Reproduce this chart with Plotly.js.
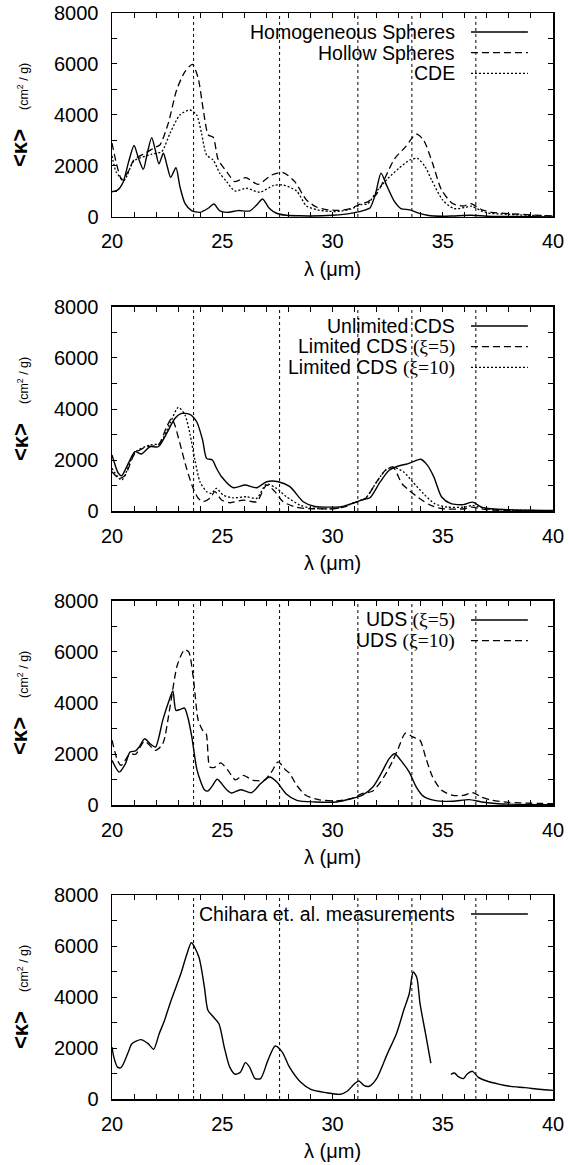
<!DOCTYPE html>
<html>
<head>
<meta charset="utf-8">
<script src="https://cdn.plot.ly/plotly-3.0.1.min.js"></script>
<style>html,body{margin:0;padding:0;background:#fff;}#chart{width:569px;height:1165px;}</style>
</head>
<body>
<div id="chart"></div>
<script>
// ---------- DATA ----------
const xRange = [20, 40];
const yRange = [0, 8000];
const featureLines = [23.7, 27.6, 31.15, 33.6, 36.5];
const xTickLabels = [20, 25, 30, 35, 40];
const yTickLabels = [0, 2000, 4000, 6000, 8000];

// Panel 1
const homX = [20, 20.25, 20.5, 20.75, 21.0, 21.2, 21.42, 21.6, 21.8, 21.97, 22.13, 22.33, 22.5, 22.66, 22.9, 23.08, 23.31, 23.61, 23.99, 24.36, 24.62, 24.89, 25.2, 25.72, 26.25, 26.56, 26.83, 27.13, 27.46, 27.91, 28.5, 29, 30, 30.5, 31, 31.5, 31.7, 31.95, 32.2, 32.45, 32.8, 33.1, 33.5, 33.9, 34.3, 35, 35.5, 36.3, 37, 38, 40];
const homY = [990, 1050, 1350, 2150, 2800, 2300, 1870, 2500, 3110, 2600, 2080, 2500, 2000, 1555, 1935, 1190, 535, 250, 180, 340, 510, 235, 180, 250, 235, 470, 705, 340, 145, 65, 45, 40, 65, 100, 170, 280, 350, 900, 1720, 1250, 620, 330, 280, 150, 65, 26, 40, 65, 30, 15, 0];
const hollowX = [20, 20.2, 20.45, 20.75, 21.0, 21.5, 22.0, 22.17, 22.55, 22.93, 23.31, 23.65, 23.91, 24.14, 24.37, 24.59, 24.82, 25.2, 25.57, 26.06, 26.63, 27.24, 27.76, 28.29, 28.82, 29.3, 29.8, 30.3, 30.8, 31.3, 31.6, 32.0, 32.33, 32.82, 33.31, 33.8, 34.13, 34.54, 34.95, 35.45, 35.94, 36.27, 36.76, 37.2, 38.0, 39.0, 40.0];
const hollowY = [2900, 2100, 1450, 1800, 2250, 2500, 2750, 2820, 3670, 4980, 5700, 5985, 5435, 4195, 3215, 3125, 2235, 1780, 1385, 1540, 1280, 1645, 1740, 1385, 665, 380, 280, 260, 330, 520, 590, 900, 1440, 2290, 2750, 3250, 3015, 2100, 1050, 525, 430, 525, 290, 180, 130, 80, 40];
const cdeX = [20, 20.2, 20.55, 21.0, 21.8, 22.25, 22.63, 23.08, 23.53, 23.84, 24.06, 24.29, 24.59, 24.89, 25.2, 25.57, 26.1, 26.71, 27.31, 27.76, 28.37, 28.82, 29.3, 29.8, 30.3, 30.8, 31.3, 31.6, 32.0, 32.5, 33.0, 33.5, 33.85, 34.2, 34.5, 35.0, 35.5, 36.0, 36.3, 36.7, 37.0, 38.0, 40.0];
const cdeY = [2400, 1750, 1440, 2200, 2460, 2560, 3280, 4000, 4195, 4000, 3280, 2430, 2235, 1710, 1385, 1020, 1125, 970, 1230, 1250, 1020, 430, 280, 220, 220, 300, 480, 520, 1000, 1500, 1900, 2230, 2300, 1970, 1440, 660, 330, 370, 420, 260, 160, 100, 26];

// Panel 2
const unlX = [20, 20.29, 20.44, 20.74, 21.04, 21.34, 21.72, 22.1, 22.48, 22.85, 23.16, 23.53, 23.84, 24.11, 24.29, 24.55, 24.74, 24.97, 25.5, 26.03, 26.56, 27.01, 27.54, 28.07, 28.67, 29.2, 29.8, 30.4, 31.0, 31.4, 31.7, 32.16, 32.57, 32.99, 33.4, 33.7, 34.0, 34.3, 34.6, 34.95, 35.37, 35.94, 36.35, 36.76, 37.2, 38.0, 40.0];
const unlY = [2200, 1480, 1385, 1870, 2325, 2235, 2520, 2520, 3045, 3630, 3830, 3790, 3500, 2780, 2065, 2000, 1675, 1345, 915, 1020, 915, 1150, 1150, 955, 365, 180, 155, 170, 330, 450, 520, 1140, 1600, 1765, 1850, 1950, 2030, 1800, 1330, 550, 290, 250, 350, 155, 90, 50, 20];
const lim5X = [20, 20.33, 20.6, 21.04, 21.57, 22.1, 22.48, 22.7, 22.85, 23.08, 23.38, 23.68, 23.91, 24.14, 24.44, 24.67, 24.97, 25.35, 25.95, 26.56, 27.01, 27.39, 27.76, 28.37, 29.0, 30.0, 30.5, 31.0, 31.5, 32.0, 32.4, 32.74, 33.15, 33.48, 33.97, 34.46, 35.0, 36.0, 36.3, 37.0, 40.0];
const lim5Y = [1540, 1280, 1410, 2260, 2520, 2590, 3305, 3630, 3370, 2650, 1675, 890, 500, 365, 500, 760, 430, 325, 430, 365, 1020, 760, 365, 145, 90, 90, 155, 330, 500, 1140, 1600, 1725, 1070, 810, 480, 220, 90, 90, 155, 50, 13];
const lim10X = [20, 20.44, 21.04, 21.72, 22.17, 22.63, 23.01, 23.31, 23.53, 23.76, 23.99, 24.29, 24.51, 24.74, 25.04, 25.5, 26.1, 26.56, 27.01, 27.46, 27.91, 28.52, 29.0, 30.0, 30.5, 31.0, 31.5, 32.0, 32.4, 32.74, 33.23, 33.64, 34.13, 34.63, 35.2, 36.0, 36.35, 37.0, 40.0];
const lim10Y = [1675, 1215, 2300, 2590, 2650, 3440, 4065, 3765, 3045, 2000, 1150, 760, 690, 890, 625, 520, 560, 500, 1060, 890, 560, 235, 120, 90, 155, 340, 510, 1140, 1600, 1725, 1530, 1140, 680, 290, 155, 155, 220, 80, 13];

// Panel 3
const uds5X = [20, 20.33, 20.6, 20.82, 21.07, 21.25, 21.48, 21.73, 21.97, 22.3, 22.55, 22.76, 22.9, 23.1, 23.29, 23.45, 23.62, 23.86, 24.19, 24.35, 24.55, 24.77, 25.18, 25.42, 25.83, 26.33, 26.74, 27.15, 27.48, 27.89, 28.38, 29.2, 30.19, 30.85, 31.34, 31.83, 32.24, 32.57, 32.82, 33.15, 33.48, 33.8, 34.13, 34.63, 35.45, 36.19, 36.76, 37.5, 40.0];
const uds5Y = [1750, 1290, 1600, 2080, 2120, 2300, 2600, 2400, 2270, 3320, 4000, 4470, 3710, 3750, 3800, 3400, 2670, 1360, 600, 550, 750, 1010, 615, 470, 600, 485, 840, 1100, 900, 445, 185, 120, 120, 250, 380, 705, 1290, 1820, 2010, 1690, 1290, 705, 340, 180, 145, 210, 120, 50, 13];
const uds10X = [20, 20.25, 20.41, 20.82, 21.07, 21.48, 21.97, 22.3, 22.63, 22.96, 23.29, 23.48, 23.7, 23.91, 24.11, 24.27, 24.44, 24.68, 24.93, 25.26, 25.59, 25.95, 26.41, 26.9, 27.23, 27.53, 27.89, 28.05, 28.38, 28.79, 29.37, 30.19, 30.85, 31.34, 31.83, 32.33, 32.74, 32.98, 33.31, 33.64, 33.97, 34.22, 34.54, 34.95, 35.45, 35.94, 36.35, 36.76, 37.26, 38.0, 40.0];
const uds10Y = [2540, 1750, 1555, 2010, 1990, 2500, 2140, 2400, 3840, 5480, 6090, 6000, 4890, 3320, 2930, 2800, 1490, 1490, 1650, 1360, 990, 1160, 970, 970, 1290, 1690, 1360, 1250, 770, 380, 210, 160, 250, 445, 550, 1100, 1750, 2210, 2820, 2670, 2540, 1880, 1100, 575, 380, 380, 485, 310, 180, 105, 50];

// Panel 4 (null = gap in the measurements)
const chiX = [20, 20.08, 20.25, 20.41, 20.74, 20.9, 21.31, 21.64, 21.89, 22.14, 22.38, 22.63, 23.12, 23.4, 23.6, 23.94, 24.19, 24.35, 24.6, 24.85, 25.09, 25.34, 25.59, 25.83, 26.05, 26.24, 26.49, 26.74, 27.07, 27.4, 27.72, 28.05, 28.55, 29.04, 29.7, 30.35, 30.68, 31.0, 31.2, 31.42, 31.67, 32.0, 32.49, 32.9, 33.23, 33.48, 33.66, 33.82, 33.97, 34.22, 34.46, 34.9, 35.37, 35.53, 35.69, 35.94, 36.1, 36.35, 36.6, 37.0, 37.58, 38.08, 38.73, 39.39, 40.0];
const chiY = [2040, 1650, 1250, 1230, 1840, 2170, 2330, 2170, 1950, 2560, 3080, 3740, 4910, 5700, 6130, 5570, 4390, 3480, 3215, 2950, 2040, 1250, 970, 1060, 1425, 1250, 800, 800, 1515, 2080, 1840, 1250, 665, 365, 250, 185, 315, 600, 705, 535, 500, 800, 1780, 2560, 3480, 4130, 4980, 4780, 3740, 2560, 1410, null, 970, 1020, 890, 800, 970, 1085, 860, 705, 575, 495, 445, 380, 340];

const legendNames = [
  ['Homogeneous Spheres', 'Hollow Spheres', 'CDE'],
  ['Unlimited CDS', 'Limited CDS <span style="font-family:\'Liberation Serif\',serif">(ξ=5)</span>', 'Limited CDS <span style="font-family:\'Liberation Serif\',serif">(ξ=10)</span>'],
  ['UDS <span style="font-family:\'Liberation Serif\',serif">(ξ=5)</span>', 'UDS <span style="font-family:\'Liberation Serif\',serif">(ξ=10)</span>'],
  ['Chihara et. al. measurements']
];
const xTitle = 'λ (μm)';
const yTitleMain = '&lt;κ&gt;';
const yTitleUnit = '(cm<sup>2</sup> / g)';

// ---------- STYLE ----------
const FONT = 'Liberation Sans, Arial, Helvetica, sans-serif';
const styles = {
  solid: {color: '#000', width: 1.4, dash: 'solid'},
  dashed: {color: '#000', width: 1.3, dash: '7px,4px'},
  dotted: {color: '#000', width: 1.3, dash: '2px,2px'}
};
const panelSeries = [
  [[homX, homY, 'solid'], [hollowX, hollowY, 'dashed'], [cdeX, cdeY, 'dotted']],
  [[unlX, unlY, 'solid'], [lim5X, lim5Y, 'dashed'], [lim10X, lim10Y, 'dotted']],
  [[uds5X, uds5Y, 'solid'], [uds10X, uds10Y, 'dashed']],
  [[chiX, chiY, 'solid']]
];
const domains = [[0.8122, 1], [0.5414, 0.7293], [0.2707, 0.4586], [0, 0.1878]];
const legendRows = [0.907, 0.806, 0.704];

const traces = [];
const layout = {
  width: 569, height: 1165,
  margin: {l: 112, r: 16, t: 13, b: 66},
  paper_bgcolor: '#fff', plot_bgcolor: '#fff',
  showlegend: false,
  font: {family: FONT, color: '#000'},
  shapes: [], annotations: []
};

panelSeries.forEach((series, p) => {
  const n = p + 1;
  const xs = n === 1 ? '' : String(n);
  const xName = 'x' + xs, yName = 'y' + xs;
  series.forEach(([xv, yv, st]) => {
    traces.push({
      x: xv, y: yv, xaxis: xName, yaxis: yName, type: 'scatter', mode: 'lines',
      line: Object.assign({shape: 'spline', smoothing: 0.7}, styles[st]),
      connectgaps: false, hoverinfo: 'skip'
    });
  });
  const common = {
    showline: true, linecolor: '#000', linewidth: 1.5, mirror: 'ticks',
    showgrid: false, zeroline: false,
    ticks: 'inside', ticklen: 5, tickwidth: 1, tickcolor: '#000',
    tickfont: {family: FONT, size: 20, color: '#000'}
  };
  layout['xaxis' + xs] = Object.assign({}, common, {
    domain: [0, 1], anchor: yName, range: xRange,
    tickmode: 'array', tickvals: xTickLabels, ticktext: xTickLabels.map(String),
    minor: {dtick: 1, tick0: 20, ticks: 'inside', ticklen: 5, tickwidth: 1, tickcolor: '#000'},
    ticklabelstandoff: 6
  });
  layout['yaxis' + xs] = Object.assign({}, common, {
    domain: domains[p], anchor: xName, range: yRange,
    tickmode: 'array', tickvals: yTickLabels, ticktext: yTickLabels.map(String),
    minor: {dtick: 1000, tick0: 0, ticks: 'inside', ticklen: 5, tickwidth: 1, tickcolor: '#000'},
    ticklabelstandoff: 8
  });
  featureLines.forEach(v => {
    layout.shapes.push({type: 'line', xref: xName, yref: yName, x0: v, x1: v, y0: yRange[0], y1: yRange[1],
      line: {color: '#000', width: 1, dash: '3px,3px'}, layer: 'above'});
  });
  // legend (gnuplot style: text right-aligned, sample line to the right)
  series.forEach(([xv, yv, st], i) => {
    const ry = legendRows[i];
    layout.shapes.push({type: 'line', xref: xName + ' domain', yref: yName + ' domain',
      x0: 0.814, x1: 0.943, y0: ry, y1: ry, line: styles[st]});
    layout.annotations.push({xref: xName + ' domain', yref: yName + ' domain', x: 0.783, y: ry,
      xanchor: 'right', yanchor: 'middle', showarrow: false, text: legendNames[p][i],
      font: {family: FONT, size: 19.5, color: '#000'}});
  });
  // axis titles
  layout.annotations.push({xref: xName + ' domain', yref: yName + ' domain', x: 0.5, y: 0, yshift: -52,
    xanchor: 'center', yanchor: 'middle', showarrow: false, text: xTitle,
    font: {family: FONT, size: 20, color: '#000'}});
  layout.annotations.push({xref: 'paper', yref: yName + ' domain', x: 0, y: 0.5, xshift: -92, yshift: -33,
    xanchor: 'center', yanchor: 'middle', showarrow: false, textangle: -90, text: '<b>' + yTitleMain + '</b>',
    font: {family: FONT, size: 22, color: '#000'}});
  layout.annotations.push({xref: 'paper', yref: yName + ' domain', x: 0, y: 0.5, xshift: -89, yshift: 28,
    xanchor: 'center', yanchor: 'middle', showarrow: false, textangle: -90, text: yTitleUnit,
    font: {family: FONT, size: 12.5, color: '#000'}});
});

Plotly.newPlot('chart', traces, layout, {staticPlot: true, displayModeBar: false});
</script>
</body>
</html>
